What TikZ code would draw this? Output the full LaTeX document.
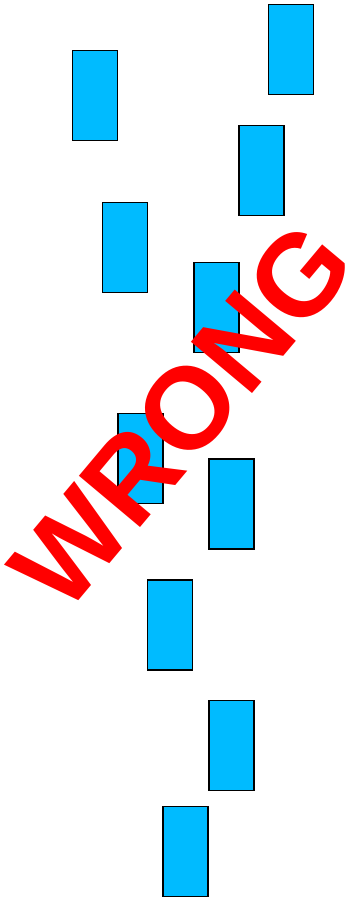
\documentclass[tikz,border=0pt]{standalone}
\usepackage{fontspec}
\setmainfont{Liberation Sans}
\definecolor{blockblue}{RGB}{0,187,255}
\definecolor{stampred}{RGB}{255,0,0}
\begin{document}
\begin{tikzpicture}[x=1pt, y=-1pt, every node/.style={inner sep=0pt, outer sep=0pt}]
        \useasboundingbox (0,0) rectangle (349,900);
        \tikzset{block/.style={draw=black, line width=1.3pt, fill=blockblue, minimum width=45pt, minimum height=90pt}}

        % Blocks
        \node[block] (B1)  at (95.3,95.5)   {};
        \node[block] (B2)  at (291.3,49.5)  {};
        \node[block] (B3)  at (261.5,170.5) {};
        \node[block] (B4)  at (125,247.5)   {};
        \node[block] (B5)  at (216.5,307.5) {};
        \node[block] (B6)  at (140.5,458.5) {};
        \node[block] (B7)  at (231.5,504)   {};
        \node[block] (B8)  at (170,625)     {};
        \node[block] (B9)  at (231.5,745.5) {};
        \node[block] (B10) at (185.5,851.5) {};

        % Stamp
        \node[text=stampred, rotate=50, font=\fontsize{116}{120}\selectfont\bfseries] (stamp) at (181.5,416) {WRONG};
    \end{tikzpicture}
\end{document}
